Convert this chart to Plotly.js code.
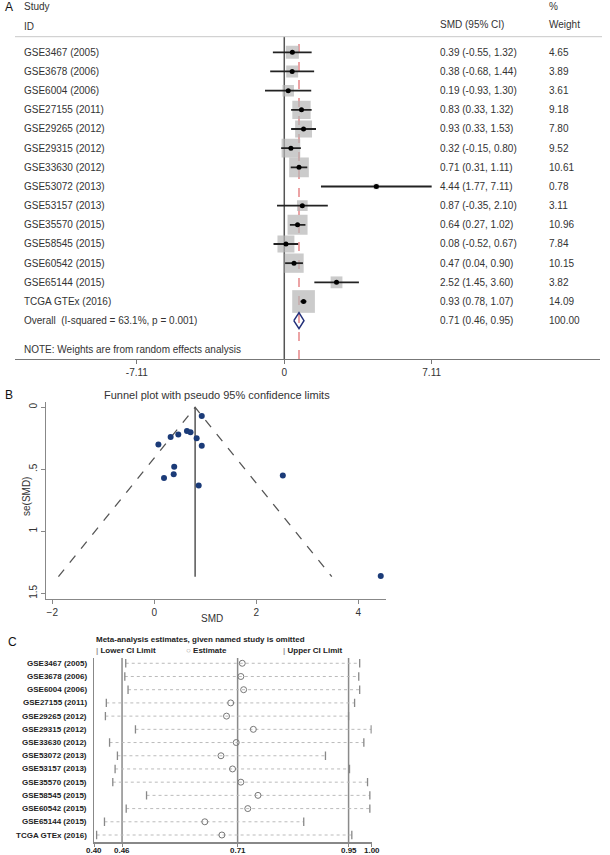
<!DOCTYPE html>
<html><head><meta charset="utf-8">
<script src="https://cdn.plot.ly/plotly-3.0.1.min.js"></script>
<style>html,body{margin:0;padding:0;background:#fff}</style>
</head><body><div id="chart" style="width:610px;height:855px"></div>
<script>
// ---------- data ----------
const studies = ['GSE3467 (2005)','GSE3678 (2006)','GSE6004 (2006)','GSE27155 (2011)','GSE29265 (2012)','GSE29315 (2012)','GSE33630 (2012)','GSE53072 (2013)','GSE53157 (2013)','GSE35570 (2015)','GSE58545 (2015)','GSE60542 (2015)','GSE65144 (2015)','TCGA GTEx (2016)'];
const smd    = [0.39, 0.38, 0.19, 0.83, 0.93, 0.32, 0.71, 4.44, 0.87, 0.64, 0.08, 0.47, 2.52, 0.93];
const ciLow  = [-0.55,-0.68,-0.93, 0.33, 0.33,-0.15, 0.31, 1.77,-0.35, 0.27,-0.52, 0.04, 1.45, 0.78];
const ciHigh = [1.32, 1.44, 1.30, 1.32, 1.53, 0.80, 1.11, 7.11, 2.10, 1.02, 0.67, 0.90, 3.60, 1.07];
const weight = [4.65, 3.89, 3.61, 9.18, 7.80, 9.52, 10.61, 0.78, 3.11, 10.96, 7.84, 10.15, 3.82, 14.09];
const overallEst = 0.71, overallLow = 0.46, overallHigh = 0.95;
const overallLabel = 'Overall  (I-squared = 63.1%, p = 0.001)';
const forestTicks = [-7.11, 0, 7.11];
const forestTickText = ['-7.11', '0', '7.11'];

// funnel plot
const seSMD = [0.48, 0.54, 0.57, 0.25, 0.31, 0.24, 0.20, 1.36, 0.63, 0.19, 0.30, 0.22, 0.55, 0.07];
const funnelX = [-1.88, 0.80, 3.48];
const funnelY = [1.366, 0, 1.366];
const funnelCenterX = [0.80, 0.80];
const funnelCenterY = [0, 1.366];
const funnelXTicks = [-2, 0, 2, 4];
const funnelYTicks = [0, 0.5, 1, 1.5];
const funnelYTickText = ['0', '.5', '1', '1.5'];

// sensitivity analysis (study omitted)
const omitEst  = [0.720, 0.717, 0.723, 0.695, 0.686, 0.744, 0.707, 0.674, 0.699, 0.717, 0.754, 0.732, 0.639, 0.676];
const omitLow  = [0.468, 0.466, 0.473, 0.426, 0.424, 0.489, 0.433, 0.450, 0.445, 0.440, 0.513, 0.469, 0.422, 0.405];
const omitHigh = [0.974, 0.972, 0.974, 0.963, 0.950, 0.999, 0.983, 0.900, 0.952, 0.991, 0.996, 0.996, 0.853, 0.957];
const sensRefLines = [0.46, 0.71, 0.95];
const sensTicks = [0.40, 0.46, 0.71, 0.95, 1.00];
const sensTickText = ['0.40', '0.46', '0.71', '0.95', '1.00'];

// ---------- helpers ----------
const W = 610, H = 855;
const PX = p => p / W, PY = p => 1 - p / H;
const FONT = 'Liberation Sans, Arial, sans-serif';
const idx = studies.map((_, i) => i);
const overallRow = studies.length;
const f2 = v => v.toFixed(2);

const traces = [];
// ---------- Panel A: forest ----------
traces.push({type:'scatter', mode:'markers', x:smd, y:idx, xaxis:'x', yaxis:'y',
  marker:{symbol:'square', size:weight.map(w => 6.05*Math.sqrt(w)), color:'#b5b5b5', line:{width:0}}, hoverinfo:'skip'});
const ciX = [], ciY = [];
idx.forEach(i => { ciX.push(ciLow[i], ciHigh[i], null); ciY.push(i, i, null); });
traces.push({type:'scatter', mode:'lines', x:ciX, y:ciY, xaxis:'x', yaxis:'y',
  line:{color:'#222', width:1.8}, hoverinfo:'skip'});
traces.push({type:'scatter', mode:'markers', x:smd, y:idx, xaxis:'x', yaxis:'y',
  marker:{symbol:'circle', size:5, color:'#000'}, hoverinfo:'skip'});
const dh = 0.42;
traces.push({type:'scatter', mode:'lines', xaxis:'x', yaxis:'y',
  x:[overallLow, overallEst, overallHigh, overallEst, overallLow],
  y:[overallRow, overallRow-dh, overallRow, overallRow+dh, overallRow],
  line:{color:'#23307a', width:1.5}, hoverinfo:'skip'});

// ---------- Panel B: funnel ----------
traces.push({type:'scatter', mode:'lines', x:funnelX, y:funnelY, xaxis:'x2', yaxis:'y2',
  line:{color:'#555', width:1.3, dash:'dash'}, hoverinfo:'skip'});
traces.push({type:'scatter', mode:'lines', x:funnelCenterX, y:funnelCenterY, xaxis:'x2', yaxis:'y2',
  line:{color:'#555', width:1.5}, hoverinfo:'skip'});
traces.push({type:'scatter', mode:'markers', x:smd, y:seSMD, xaxis:'x2', yaxis:'y2',
  marker:{symbol:'circle', size:6, color:'#1b3b78'}, hoverinfo:'skip'});

// ---------- Panel C: sensitivity ----------
const dX = [], dY = [];
idx.forEach(i => { dX.push(omitLow[i], omitHigh[i], null); dY.push(i, i, null); });
traces.push({type:'scatter', mode:'lines', x:dX, y:dY, xaxis:'x3', yaxis:'y3',
  line:{color:'#bbb', width:1, dash:'dot'}, hoverinfo:'skip'});
traces.push({type:'scatter', mode:'markers', x:omitLow, y:idx, xaxis:'x3', yaxis:'y3',
  marker:{symbol:'line-ns', size:6, color:'#888', line:{color:'#888', width:1.3}}, hoverinfo:'skip'});
traces.push({type:'scatter', mode:'markers', x:omitHigh, y:idx, xaxis:'x3', yaxis:'y3',
  marker:{symbol:'line-ns', size:6, color:'#888', line:{color:'#888', width:1.3}}, hoverinfo:'skip'});
traces.push({type:'scatter', mode:'markers', x:omitEst, y:idx, xaxis:'x3', yaxis:'y3',
  marker:{symbol:'circle-open', size:6, color:'#777', line:{color:'#777', width:1}}, hoverinfo:'skip'});

// ---------- annotations ----------
const ann = [];
const txt = (text, x, y, opts={}) => ann.push(Object.assign({text, x, y, xref:'paper', yref:'paper',
  showarrow:false, xanchor:'left', yanchor:'middle', font:{family:FONT, size:10, color:'#333'}}, opts));

// Panel A
txt('A', PX(3), PY(7), {font:{family:FONT, size:12, color:'#111'}});
txt('Study', PX(22), PY(7));
txt('ID', PX(22), PY(26));
txt('SMD (95% CI)', PX(438), PY(25));
txt('%', PX(547), PY(7));
txt('Weight', PX(547), PY(25));
idx.forEach(i => {
  txt(studies[i], PX(22), i, {yref:'y'});
  txt(`${f2(smd[i])} (${f2(ciLow[i])}, ${f2(ciHigh[i])})`, PX(438), i, {yref:'y'});
  txt(f2(weight[i]), PX(547), i, {yref:'y'});
});
txt(overallLabel, PX(22), overallRow, {yref:'y'});
txt(`${f2(overallEst)} (${f2(overallLow)}, ${f2(overallHigh)})`, PX(438), overallRow, {yref:'y'});
txt('100.00', PX(547), overallRow, {yref:'y'});
txt('NOTE: Weights are from random effects analysis', PX(22), PY(349));

// Panel B
txt('B', PX(3), PY(395), {font:{family:FONT, size:12, color:'#111'}});
txt('Funnel plot with pseudo 95% confidence limits', PX(217), PY(395), {xanchor:'center', font:{family:FONT, size:11, color:'#333'}});
txt('se(SMD)', PX(27), PY(497), {xanchor:'center', textangle:-90});
txt('SMD', PX(212), PY(618), {xanchor:'center'});

// Panel C
const bold8 = {family:FONT, size:8, color:'#222', weight:'bold'};
txt('C', PX(6), PY(642), {font:{family:FONT, size:12, color:'#111'}});
txt('Meta-analysis estimates, given named study is omitted', PX(94), PY(639), {font:bold8});
txt('<span style="color:#999">|</span> Lower CI Limit', PX(94), PY(650), {font:bold8});
txt('<span style="color:#999">○</span> Estimate', PX(184), PY(650), {font:bold8});
txt('<span style="color:#999">|</span> Upper CI Limit', PX(281), PY(650), {font:bold8});
idx.forEach(i => txt(studies[i], PX(89), i, {yref:'y3', xanchor:'right', font:bold8}));
sensTicks.forEach((v, k) => txt(sensTickText[k], v, PY(850), {xref:'x3', xanchor:'center', font:bold8}));

// ---------- shapes ----------
const shapes = [
  {type:'line', xref:'paper', yref:'paper', x0:PX(15), x1:PX(602), y0:PY(36.7), y1:PY(36.7), line:{color:'#c8c8c8', width:1}},
  {type:'line', xref:'x', yref:'paper', x0:0, x1:0, y0:PY(359), y1:PY(36.7), line:{color:'#555', width:1.5}, layer:'below'},
  {type:'line', xref:'x', yref:'paper', x0:overallEst, x1:overallEst, y0:PY(359), y1:PY(38), line:{color:'#dd5a5c', width:1.1, dash:'dash'}, layer:'below'},
];
sensRefLines.forEach(v => shapes.push({type:'line', xref:'x3', yref:'y3 domain', x0:v, x1:v, y0:0, y1:1,
  line:{color:'#8a8a8a', width:1.5}, layer:'below'}));

const tickfont = {family:FONT, size:10, color:'#333'};
const layout = {
  width:W, height:H, margin:{l:0, r:0, t:0, b:0}, paper_bgcolor:'#fff', plot_bgcolor:'rgba(0,0,0,0)',
  showlegend:false, hovermode:false,
  xaxis:{domain:[PX(15), PX(600)], range:[-12.99, 15.23], anchor:'y', tickvals:forestTicks, ticktext:forestTickText,
    ticks:'outside', ticklen:4, tickcolor:'#777', showline:true, linecolor:'#777', linewidth:1,
    showgrid:false, zeroline:false, tickfont},
  yaxis:{domain:[PY(359), PY(36.7)], range:[16.0, -0.814], anchor:'x', visible:false},
  xaxis2:{domain:[PX(46), PX(386)], range:[-2.124, 4.543], anchor:'y2', tickvals:funnelXTicks,
    ticks:'outside', ticklen:4, tickcolor:'#888', showline:true, linecolor:'#888', linewidth:1,
    showgrid:false, zeroline:false, tickfont},
  yaxis2:{domain:[PY(599), PY(402)], range:[1.546, -0.043], anchor:'x2', tickvals:funnelYTicks, ticktext:funnelYTickText,
    tickangle:-90, ticks:'outside', ticklen:4, tickcolor:'#888', showline:true, linecolor:'#888', linewidth:1,
    showgrid:false, zeroline:false, tickfont},
  xaxis3:{domain:[PX(94.3), PX(371.7)], range:[0.40, 1.00], anchor:'y3', tickvals:sensTicks,
    ticks:'outside', ticklen:3, tickcolor:'#888', showline:true, linecolor:'#888', linewidth:1.5,
    showticklabels:false, showgrid:false, zeroline:false},
  yaxis3:{domain:[PY(842), PY(658)], range:[13.53, -0.40], anchor:'x3', showline:true, linecolor:'#888', linewidth:1.5,
    showticklabels:false, ticks:'', showgrid:false, zeroline:false},
  annotations:ann, shapes
};
Plotly.newPlot('chart', traces, layout, {staticPlot:true, displayModeBar:false});
</script></body></html>
